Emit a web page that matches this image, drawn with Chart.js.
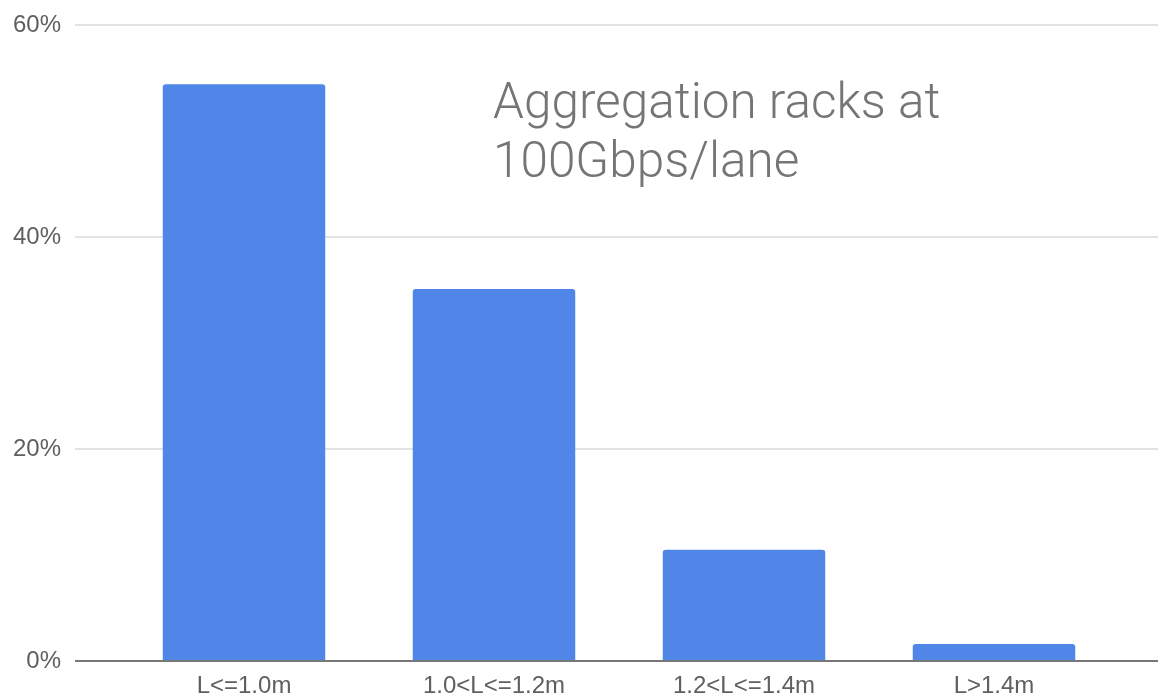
<!DOCTYPE html>
<html>
<head>
<meta charset="utf-8">
<script src="https://cdn.jsdelivr.net/npm/chart.js@4/dist/chart.umd.min.js"></script>
<style>
  html, body { margin: 0; padding: 0; background: #ffffff; }
  #wrap { width: 1158px; height: 698px; position: relative; }
</style>
</head>
<body>
<div id="wrap"><canvas id="chart" width="1158" height="698"></canvas></div>
<script>
// Cable length buckets and share of links in each
const categories = ['L<=1.0m', '1.0<L<=1.2m', '1.2<L<=1.4m', 'L>1.4m'];
const shares = [54.4, 35.1, 10.5, 1.6];
const yTicks = [0, 20, 40, 60];
const noteLines = ['Aggregation racks at', '100Gbps/lane'];

const labelFont = { family: "'Liberation Sans', Arial, sans-serif", size: 24 };
const labelColor = '#5f5f5f';
const gridLead = 44;

// Horizontal grid lines and the zero baseline run a little past the category band
const gridPlugin = {
  id: 'wideGrid',
  beforeDatasetsDraw(chart) {
    const { ctx } = chart;
    const y = chart.scales.y;
    const left = y.right - gridLead;
    const right = chart.width;
    ctx.save();
    ctx.lineWidth = 2;
    ctx.strokeStyle = '#e3e3e3';
    y.ticks.forEach(t => {
      if (t.value === 0) return;
      const py = Math.round(y.getPixelForValue(t.value));
      ctx.beginPath();
      ctx.moveTo(left, py);
      ctx.lineTo(right, py);
      ctx.stroke();
    });
    ctx.restore();
  },
  afterDatasetsDraw(chart) {
    const { ctx } = chart;
    const y = chart.scales.y;
    const py = Math.round(y.getPixelForValue(0));
    ctx.save();
    ctx.lineWidth = 2;
    ctx.strokeStyle = '#777777';
    ctx.beginPath();
    ctx.moveTo(y.right - gridLead, py);
    ctx.lineTo(chart.width, py);
    ctx.stroke();
    ctx.restore();
  }
};

// Annotation text placed inside the plot
const notePlugin = {
  id: 'note',
  afterDraw(chart) {
    const { ctx } = chart;
    ctx.save();
    ctx.font = "300 49.5px Roboto, 'Noto Sans', sans-serif";
    ctx.fillStyle = '#757575';
    ctx.textAlign = 'left';
    ctx.textBaseline = 'alphabetic';
    noteLines.forEach((line, i) => {
      ctx.fillText(line, 493, 118 + i * 59);
    });
    ctx.restore();
  }
};

new Chart(document.getElementById('chart'), {
  type: 'bar',
  data: {
    labels: categories,
    datasets: [{
      data: shares,
      backgroundColor: '#4f86e8',
      borderRadius: { topLeft: 3, topRight: 3, bottomLeft: 0, bottomRight: 0 },
      borderSkipped: false,
      categoryPercentage: 1.0,
      barPercentage: 0.65
    }]
  },
  options: {
    responsive: false,
    animation: false,
    layout: { padding: { top: 25, right: 39, left: 0, bottom: 0 } },
    plugins: {
      legend: { display: false },
      tooltip: { enabled: false },
      title: { display: false }
    },
    scales: {
      x: {
        grid: { display: false, drawTicks: false },
        border: { display: false },
        ticks: { font: labelFont, color: labelColor, padding: 11, maxRotation: 0, autoSkip: false },
        afterFit(scale) { scale.height = 37; }
      },
      y: {
        min: 0,
        max: 60,
        afterBuildTicks(scale) { scale.ticks = yTicks.map(v => ({ value: v })); },
        grid: {
          display: true,
          drawOnChartArea: false,
          drawTicks: true,
          tickLength: 48,
          tickColor: 'rgba(0,0,0,0)'
        },
        border: { display: false },
        ticks: {
          font: labelFont,
          color: labelColor,
          padding: 10,
          callback: v => v + '%'
        },
        afterFit(scale) { scale.width = 119; }
      }
    }
  },
  plugins: [gridPlugin, notePlugin]
});
</script>
</body>
</html>
